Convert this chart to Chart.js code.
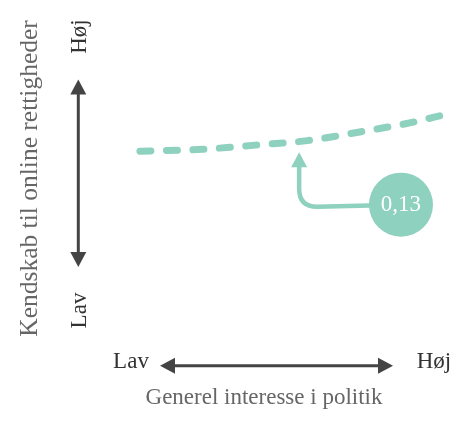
<!DOCTYPE html>
<html><head><meta charset="utf-8">
<script src="https://cdn.jsdelivr.net/npm/chart.js@4"></script>
<style>html,body{margin:0;padding:0;background:#fff;overflow:hidden}canvas{display:block}</style>
</head><body>
<canvas id="c" width="459" height="422"></canvas>
<script>
// Data (abstract units 0-100 on both axes)
const interestX  = [18.4, 34.7, 48.7, 62.4, 76.6, 90.0, 99.2];
const knowledgeY = [71.5, 72.1, 73.4, 74.8, 77.6, 80.5, 83.1];
const coefficientLabel = '0,13';
const calloutAnchorX = 60.3;
const calloutCircle = [87.1, 54.8];
const xTitle = 'Generel interesse i politik';
const yTitle = 'Kendskab til online rettigheder';
const lowLabel = 'Lav';
const highLabel = 'Høj';

const TEAL = '#8ED1BE';
const DARK = '#444444';
const FONT = '"Liberation Serif", "Times New Roman", serif';

function arrowHead(ctx, tx, ty, dirX, dirY, len, half) {
  const bx = tx - dirX * len, by = ty - dirY * len;
  const nx = -dirY, ny = dirX;
  ctx.beginPath();
  ctx.moveTo(tx, ty);
  ctx.lineTo(bx + nx * half, by + ny * half);
  ctx.lineTo(bx - nx * half, by - ny * half);
  ctx.closePath();
  ctx.fill();
}

const decor = {
  id: 'decor',
  afterDatasetsDraw(chart) {
    const ctx = chart.ctx;
    const xs = chart.scales.x, ys = chart.scales.y;
    const a = chart.chartArea;
    ctx.save();

    // --- axis arrows ---
    ctx.strokeStyle = DARK; ctx.fillStyle = DARK; ctx.lineWidth = 3;
    const vx = a.left + 8.3, vTop = a.top + 19.5, vBot = a.top + 207;
    ctx.beginPath(); ctx.moveTo(vx, vTop + 12); ctx.lineTo(vx, vBot - 12); ctx.stroke();
    arrowHead(ctx, vx, vTop, 0, -1, 15, 8);
    arrowHead(ctx, vx, vBot, 0, 1, 15, 8);
    const hy = a.top + 305.7, hL = a.left + 90, hR = a.left + 323;
    ctx.beginPath(); ctx.moveTo(hL + 12, hy); ctx.lineTo(hR - 12, hy); ctx.stroke();
    arrowHead(ctx, hL, hy, -1, 0, 15, 8);
    arrowHead(ctx, hR, hy, 1, 0, 15, 8);

    // --- labels ---
    ctx.fillStyle = '#333';
    ctx.font = '23px ' + FONT;
    ctx.textAlign = 'center'; ctx.textBaseline = 'alphabetic';
    ctx.fillText(lowLabel, 131, 368);
    ctx.fillText(highLabel, 434, 368);
    ctx.save(); ctx.translate(86, 36.5); ctx.rotate(-Math.PI / 2); ctx.fillText(highLabel, 0, 0); ctx.restore();
    ctx.save(); ctx.translate(86, 310.5); ctx.rotate(-Math.PI / 2); ctx.fillText(lowLabel, 0, 0); ctx.restore();

    ctx.fillStyle = '#666';
    ctx.font = '23px ' + FONT;
    ctx.fillText(xTitle, 264, 404);
    ctx.save(); ctx.translate(37, 178.5); ctx.rotate(-Math.PI / 2);
    ctx.font = '25.5px ' + FONT;
    ctx.fillText(yTitle, 0, 0); ctx.restore();

    // --- callout ---
    let ay = knowledgeY[0];
    for (let i = 0; i < interestX.length - 1; i++) {
      if (calloutAnchorX >= interestX[i] && calloutAnchorX <= interestX[i + 1]) {
        const t = (calloutAnchorX - interestX[i]) / (interestX[i + 1] - interestX[i]);
        ay = knowledgeY[i] + t * (knowledgeY[i + 1] - knowledgeY[i]);
      }
    }
    const tipX = xs.getPixelForValue(calloutAnchorX);
    const tipY = ys.getPixelForValue(ay) + 11;
    const cx = xs.getPixelForValue(calloutCircle[0]);
    const cy = ys.getPixelForValue(calloutCircle[1]);
    ctx.strokeStyle = TEAL; ctx.fillStyle = TEAL; ctx.lineWidth = 4.5; ctx.lineCap = 'round';
    const r = 18;
    ctx.beginPath();
    ctx.moveTo(cx, cy);
    ctx.lineTo(tipX + r, cy + 2);
    ctx.quadraticCurveTo(tipX, cy + 2, tipX, cy + 2 - r);
    ctx.lineTo(tipX, tipY + 13);
    ctx.stroke();
    arrowHead(ctx, tipX, tipY, 0, -1, 15, 8);
    ctx.beginPath(); ctx.arc(cx, cy, 32, 0, Math.PI * 2); ctx.fill();
    ctx.fillStyle = '#fff';
    ctx.font = '23px ' + FONT;
    ctx.textAlign = 'center'; ctx.textBaseline = 'middle';
    ctx.fillText(coefficientLabel, cx, cy);
    ctx.restore();
  }
};

new Chart(document.getElementById('c'), {
  type: 'line',
  data: {
    labels: interestX,
    datasets: [{
      data: interestX.map((x, i) => ({ x, y: knowledgeY[i] })),
      borderColor: TEAL,
      borderWidth: 7,
      borderDash: [11, 15.5],
      borderCapStyle: 'round',
      cubicInterpolationMode: 'monotone',
      pointRadius: 0,
      fill: false
    }]
  },
  options: {
    responsive: false,
    animation: false,
    devicePixelRatio: 1,
    layout: { padding: { left: 70, right: 9, top: 60, bottom: 42 } },
    plugins: { legend: { display: false }, tooltip: { enabled: false }, title: { display: false } },
    scales: {
      x: { type: 'linear', min: 0, max: 100, display: false },
      y: { type: 'linear', min: 0, max: 100, display: false }
    }
  },
  plugins: [decor]
});
</script>
</body></html>
